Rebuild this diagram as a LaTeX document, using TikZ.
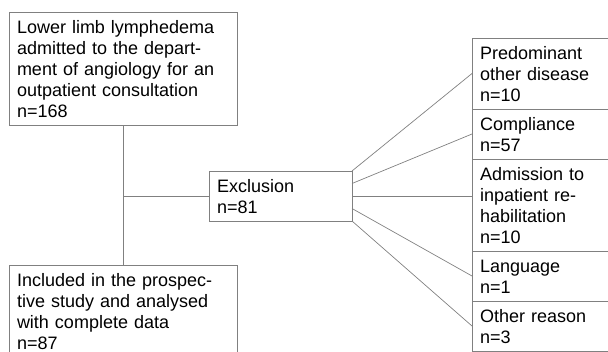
\documentclass[tikz,border=0pt]{standalone}
\usepackage{fontspec}
\setmainfont{Liberation Sans}
\usetikzlibrary{positioning,calc}
\definecolor{linegray}{RGB}{128,128,128}
\tikzset{
  flowbox/.style={draw=linegray, line width=.7pt, outer sep=0pt, anchor=north west,
    align=left, inner xsep=8pt, inner ysep=0pt, text width=#1,
    font=\fontsize{18}{21}\selectfont,
    execute at begin node={\rule{0pt}{21pt}},
    execute at end node={\rule[-8pt]{0pt}{8pt}}},
  link/.style={draw=linegray, line width=.7pt}
}

\begin{document}
\begin{tikzpicture}[x=1pt,y=-1pt]
  \useasboundingbox (0,0) rectangle (608,351);
  \clip (0,0) rectangle (608,351);

  % main column
  \node[flowbox=212pt] (lymph) at (9,12) {Lower limb lymphedema\\admitted to the depart-\\ment of angiology for an\\outpatient consultation\\n=168};
  \node[flowbox=212pt] (incl) at (9,265) {Included in the prospec-\\tive study and analysed\\with complete data\\n=87};
  \node[flowbox=127pt] (excl) at (209,171) {Exclusion\\n=81};

  % reasons
  \node[flowbox=127pt] (pred) at (472,38) {Predominant\\other disease\\n=10};
  \node[flowbox=127pt, below=0pt of pred] (compl) {Compliance\\n=57};
  \node[flowbox=127pt, below=0pt of compl] (adm) {Admission to\\inpatient re-\\habilitation\\n=10};
  \node[flowbox=127pt, below=0pt of adm] (lang) {Language\\n=1};
  \node[flowbox=127pt, below=0pt of lang] (other) {Other reason\\n=3};

  \draw[link] (lymph) -- (incl);
  \draw[link] (lymph.south |- excl.west) -- (excl.west);
  \draw[link] (excl.north east) -- (pred.west);
  \draw[link] ($(excl.north east)!.25!(excl.south east)$) -- (compl.west);
  \draw[link] (excl.east) -- (adm.west |- excl.east);
  \draw[link] ($(excl.north east)!.75!(excl.south east)$) -- (lang.west);
  \draw[link] (excl.south east) -- (other.west);
\end{tikzpicture}
\end{document}
